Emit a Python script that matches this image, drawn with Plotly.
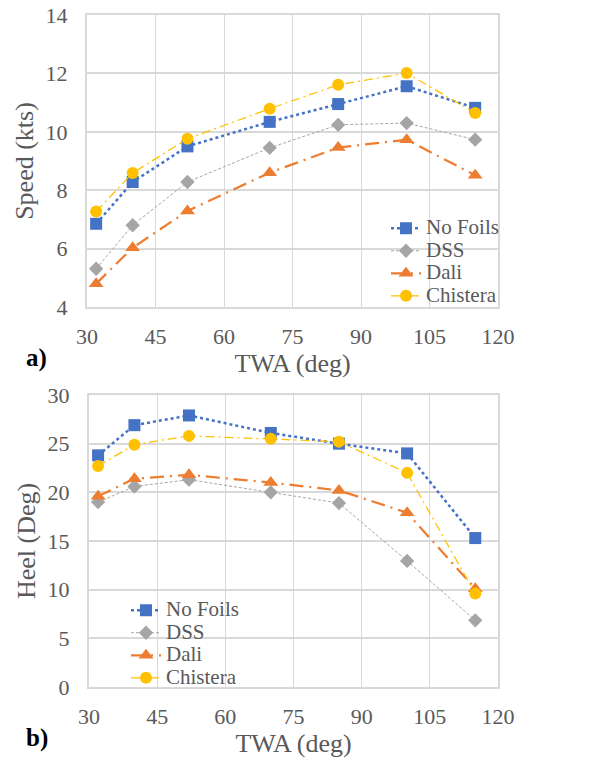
import plotly.graph_objects as go

twa = [32, 40, 52, 70, 85, 100, 115]
series_names = ["No Foils", "DSS", "Dali", "Chistera"]

speed_nofoils = [6.85, 8.28, 9.50, 10.34, 10.95, 11.56, 10.82]
speed_dss = [5.31, 6.80, 8.28, 9.45, 10.24, 10.30, 9.73]
speed_dali = [4.80, 6.03, 7.29, 8.60, 9.46, 9.73, 8.51]
speed_chistera = [7.27, 8.59, 9.76, 10.79, 11.61, 12.01, 10.64]

heel_nofoils = [23.8, 26.9, 27.9, 26.1, 25.0, 24.0, 15.3]
heel_dss = [19.0, 20.6, 21.3, 20.0, 18.9, 12.95, 6.85]
heel_dali = [19.6, 21.4, 21.8, 21.0, 20.2, 17.9, 10.1]
heel_chistera = [22.7, 24.9, 25.8, 25.5, 25.2, 22.0, 9.6]

x_ticks = [30, 45, 60, 75, 90, 105, 120]
speed_ticks = [4, 6, 8, 10, 12, 14]
heel_ticks = [0, 5, 10, 15, 20, 25, 30]

FONT = "Liberation Serif"
TXT = "#595959"
GRID = "#d9d9d9"

styles = [
    dict(color="#4472C4", dash="dot", width=2.5, symbol="square", size=12),
    dict(color="#A5A5A5", dash="3px,2px", width=1, symbol="diamond", size=11),
    dict(color="#ED7D31", dash="14px,6px,2px,6px", width=2.25, symbol="triangle-up", size=13),
    dict(color="#FFC000", dash="9px,4px,2px,4px", width=1.25, symbol="circle", size=12),
]

fig = go.Figure()

def add_series(ys, xa, ya, leg):
    for name, y, st in zip(series_names, ys, styles):
        fig.add_trace(go.Scatter(
            x=twa, y=y, xaxis=xa, yaxis=ya, legend=leg,
            name='<span style="font-size:21px">' + name + '</span>',
            mode="lines+markers",
            line=dict(color=st["color"], dash=st["dash"], width=st["width"]),
            marker=dict(symbol=st["symbol"], size=st["size"], color=st["color"]),
        ))

add_series([speed_nofoils, speed_dss, speed_dali, speed_chistera], "x", "y", "legend")
add_series([heel_nofoils, heel_dss, heel_dali, heel_chistera], "x2", "y2", "legend2")

axis_common = dict(
    showgrid=True, gridcolor=GRID, showline=True, linecolor=GRID, linewidth=2,
    mirror=True, ticks="", zeroline=False, automargin=False,
    tickfont=dict(family=FONT, size=22, color=TXT),
    title_font=dict(family=FONT, size=26, color=TXT),
)

fig.update_layout(
    template="none",
    width=590, height=758,
    margin=dict(l=0, r=0, t=0, b=0, autoexpand=False),
    paper_bgcolor="white", plot_bgcolor="white",
    font=dict(family=FONT, color=TXT),
    xaxis=dict(domain=[87/590, 498/590], anchor="y", range=[30, 120],
               tickvals=x_ticks, gridwidth=1, ticklabelstandoff=9,
               title=dict(text="TWA (deg)", standoff=1), **axis_common),
    yaxis=dict(domain=[1-307/758, 1-15/758], anchor="x", range=[4, 14],
               tickvals=speed_ticks, gridwidth=2, ticklabelstandoff=13,
               title=dict(text="Speed (kts)", standoff=4), **axis_common),
    xaxis2=dict(domain=[89/590, 498/590], anchor="y2", range=[30, 120],
                tickvals=x_ticks, gridwidth=1, ticklabelstandoff=9,
                title=dict(text="TWA (deg)", standoff=1), **axis_common),
    yaxis2=dict(domain=[1-687/758, 1-395/758], anchor="x2", range=[0, 30],
                tickvals=heel_ticks, gridwidth=2, ticklabelstandoff=13,
                title=dict(text="Heel (Deg)", standoff=4), **axis_common),
    legend=dict(x=386/590, y=1-212/758, xanchor="left", yanchor="top",
                bgcolor="rgba(0,0,0,0)", font=dict(family=FONT, size=15, color=TXT)),
    legend2=dict(x=126/590, y=1-594/758, xanchor="left", yanchor="top",
                 bgcolor="rgba(0,0,0,0)", font=dict(family=FONT, size=15, color=TXT)),
    annotations=[
        dict(text="<b>a)</b>", x=24/590, y=1-358/758, xref="paper", yref="paper",
             xanchor="left", yanchor="middle", showarrow=False,
             font=dict(family=FONT, size=25, color="black")),
        dict(text="<b>b)</b>", x=24/590, y=1-738/758, xref="paper", yref="paper",
             xanchor="left", yanchor="middle", showarrow=False,
             font=dict(family=FONT, size=25, color="black")),
    ],
)

fig.write_html("out.html")
